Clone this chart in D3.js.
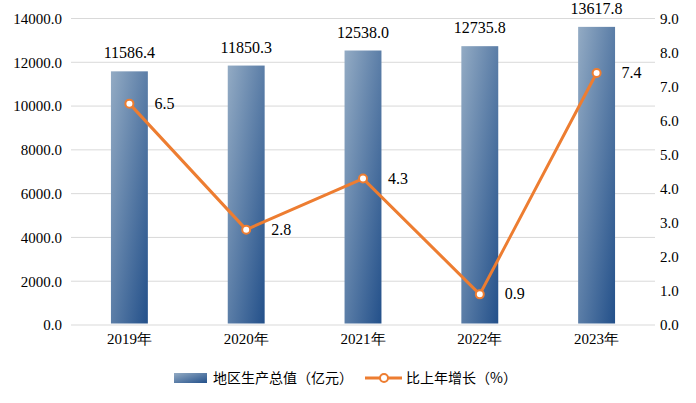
<!DOCTYPE html>
<html>
<head>
<meta charset="utf-8">
<script src="https://cdn.jsdelivr.net/npm/d3@7"></script>
<style>
  body { margin: 0; background: #fff; }
  svg text { font-family: 'Times New Roman', 'Liberation Serif', 'DejaVu Serif', serif; fill: #000; }
  svg .legend text { font-family: 'Noto Sans CJK SC', sans-serif; }
</style>
</head>
<body>
<div class="container"></div>
<script>
const years = ['2019年', '2020年', '2021年', '2022年', '2023年'];
const gdp = [11586.4, 11850.3, 12538.0, 12735.8, 13617.8];
const growth = [6.5, 2.8, 4.3, 0.9, 7.4];
const leftTicks = [0, 2000, 4000, 6000, 8000, 10000, 12000, 14000];
const rightTicks = [0, 1, 2, 3, 4, 5, 6, 7, 8, 9];
const barName = '地区生产总值（亿元）';
const lineName = '比上年增长（%）';

const renderChart = () => {
  const width = 696;
  const height = 403;
  const left = 71, right = 655, top = 18.5, bottom = 325;
  const orange = '#ED7D31';
  const serif = "'Times New Roman', 'Liberation Serif', 'DejaVu Serif', serif";

  const svg = d3.select('.container').append('svg').attr('width', width).attr('height', height);

  //bar gradient
  const defs = svg.append('defs');
  const grad = defs.append('linearGradient').attr('id', 'barGrad')
    .attr('x1', '0%').attr('y1', '0%').attr('x2', '100%').attr('y2', '100%');
  grad.append('stop').attr('offset', '0%').attr('stop-color', '#93abc4');
  grad.append('stop').attr('offset', '100%').attr('stop-color', '#23508a');

  //scales
  const x = d3.scaleBand().domain(years).range([left, right]);
  const yL = d3.scaleLinear().domain([0, 14000]).range([bottom, top]);
  const yR = d3.scaleLinear().domain([0, 9]).range([bottom, top]);

  //gridlines
  svg.append('g').selectAll('line').data(leftTicks).join('line')
    .attr('x1', left).attr('x2', right)
    .attr('y1', d => yL(d)).attr('y2', d => yL(d))
    .attr('stroke', '#d9d9d9').attr('stroke-width', 1);

  //left axis
  const leftAxis = svg.append('g').attr('transform', `translate(${left},0)`)
    .call(d3.axisLeft(yL).tickValues(leftTicks).tickFormat(d3.format('.1f')).tickSize(0).tickPadding(9));
  leftAxis.select('.domain').remove();
  leftAxis.attr('font-family', null);
  leftAxis.selectAll('text').style('font-size', '15px').style('font-family', serif);

  //right axis
  const rightAxis = svg.append('g').attr('transform', `translate(${right},0)`)
    .call(d3.axisRight(yR).tickValues(rightTicks).tickFormat(d3.format('.1f')).tickSize(0).tickPadding(5));
  rightAxis.select('.domain').remove();
  rightAxis.attr('font-family', null);
  rightAxis.selectAll('text').style('font-size', '15px').style('font-family', serif);

  //bottom axis
  const bottomAxis = svg.append('g').attr('transform', `translate(0,${bottom})`)
    .call(d3.axisBottom(x).tickSize(0).tickPadding(8));
  bottomAxis.select('.domain').remove();
  bottomAxis.attr('font-family', null);
  bottomAxis.selectAll('text').style('font-size', '15px').style('font-family', serif);

  //bars
  const bw = x.bandwidth() * 0.316;
  svg.append('g').selectAll('rect').data(gdp).join('rect')
    .attr('x', (d, i) => x(years[i]) + x.bandwidth() / 2 - bw / 2)
    .attr('y', d => yL(d))
    .attr('width', bw)
    .attr('height', d => yL(0) - 1.5 - yL(d))
    .attr('fill', 'url(#barGrad)');

  svg.append('g').selectAll('text').data(gdp).join('text')
    .attr('x', (d, i) => x(years[i]) + x.bandwidth() / 2)
    .attr('y', d => yL(d) - 13)
    .attr('text-anchor', 'middle')
    .style('font-size', '16px').style('font-family', serif)
    .text(d => d.toFixed(1));

  //line
  const cx = (d, i) => x(years[i]) + x.bandwidth() / 2;
  const line = d3.line().x(cx).y(d => yR(d));
  svg.append('path').attr('d', line(growth))
    .attr('fill', 'none').attr('stroke', orange).attr('stroke-width', 3).attr('stroke-linejoin', 'round');

  svg.append('g').selectAll('circle').data(growth).join('circle')
    .attr('cx', cx).attr('cy', d => yR(d)).attr('r', 4)
    .attr('fill', '#fff').attr('stroke', orange).attr('stroke-width', 2);

  svg.append('g').selectAll('text').data(growth).join('text')
    .attr('x', (d, i) => cx(d, i) + 25)
    .attr('y', d => yR(d) + 5)
    .style('font-size', '16px').style('font-family', serif)
    .text(d => d.toFixed(1));

  //legend
  const legend = svg.append('g').attr('class', 'legend');
  legend.append('rect').attr('x', 174).attr('y', 373).attr('width', 33).attr('height', 10).attr('fill', 'url(#barGrad)');
  legend.append('text').attr('x', 213).attr('y', 383).style('font-size', '14px').text(barName);
  legend.append('line').attr('x1', 365).attr('x2', 402).attr('y1', 378).attr('y2', 378)
    .attr('stroke', orange).attr('stroke-width', 3);
  legend.append('circle').attr('cx', 384).attr('cy', 378).attr('r', 4)
    .attr('fill', '#fff').attr('stroke', orange).attr('stroke-width', 2);
  legend.append('text').attr('x', 406).attr('y', 383).style('font-size', '14px').text(lineName);
};

renderChart();
</script>
</body>
</html>
